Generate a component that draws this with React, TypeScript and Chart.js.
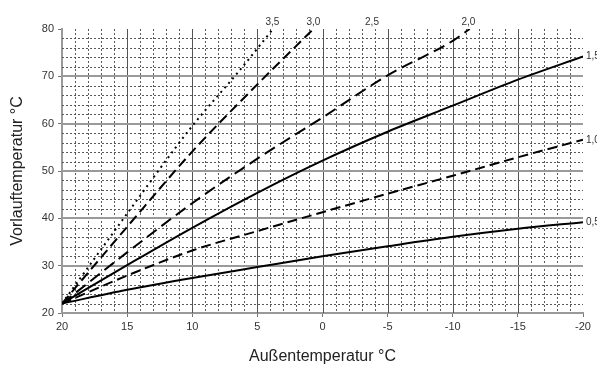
import React, { useEffect, useRef } from "react";
import { Chart, registerables } from "chart.js";

Chart.register(...registerables);

// Outdoor temperature (x) and flow temperature (y) readings
const outdoorTemps = [20, 15, 10, 5, 0, -5, -10, -15, -20];
const curve05 = [22, 24.9, 27.4, 29.7, 32.0, 34.1, 36.1, 37.8, 39.2];
const curve10 = [22, 27.9, 33.2, 37.3, 41.3, 45.2, 49.0, 52.9, 56.6];
const curve15 = [22, 30.1, 38.0, 45.4, 52.2, 58.3, 63.8, 69.3, 74.2];
const curve20X = [20, 15, 10, 5, 0, -5, -10, -11.3];
const curve20 = [22, 32.8, 43.2, 52.6, 61.3, 70.2, 77.5, 80];
const curve30X = [20, 15, 10, 5, 0.7];
const curve30 = [22, 38.2, 54.1, 68.3, 80];
const curve35X = [20, 15, 10, 6.5, 3.8];
const curve35 = [22, 41, 59.5, 70.8, 80];

const topLabels = ["3,5", "3,0", "2,5", "2,0"];
const topLabelX = [3.85, 0.7, -3.8, -11.2];
const sideLabels = ["1,5", "1,0", "0,5"];
const sideLabelY = [curve15[8], curve10[8], curve05[8]];

const xMin = -20;
const xMax = 20;
const yMin = 20;
const yMax = 80;

const FONT = "'Liberation Sans', Arial, sans-serif";

function pts(xs: number[], ys: number[]) {
  return xs.map((x, i) => ({ x, y: ys[i] }));
}

const gridPlugin = {
  id: "customGrid",
  beforeDatasetsDraw(chart: any) {
    const { ctx, chartArea, scales } = chart;
    const xs = scales.x;
    const ys = scales.y;
    const { left, right, top, bottom } = chartArea;
    ctx.save();
    // minor dotted
    ctx.strokeStyle = "#5a5a5a";
    ctx.lineWidth = 1;
    ctx.setLineDash([2, 2]);
    for (let v = xMax - 1; v > xMin; v -= 1) {
      if (v % 5 === 0) continue;
      const px = Math.round(xs.getPixelForValue(v)) + 0.5;
      ctx.beginPath();
      ctx.moveTo(px, top);
      ctx.lineTo(px, bottom);
      ctx.stroke();
    }
    for (let v = yMin + 2; v < yMax; v += 2) {
      if (v % 10 === 0) continue;
      const py = Math.round(ys.getPixelForValue(v)) + 0.5;
      ctx.beginPath();
      ctx.moveTo(left, py);
      ctx.lineTo(right, py);
      ctx.stroke();
    }
    ctx.setLineDash([]);
    // major vertical
    ctx.strokeStyle = "#555";
    ctx.lineWidth = 1;
    for (let v = xMax - 5; v > xMin; v -= 5) {
      const px = Math.round(xs.getPixelForValue(v)) + 0.5;
      ctx.beginPath();
      ctx.moveTo(px, top);
      ctx.lineTo(px, bottom);
      ctx.stroke();
    }
    // major horizontal
    ctx.strokeStyle = "#9a9a9a";
    ctx.lineWidth = 2;
    for (let v = yMin + 10; v < yMax; v += 10) {
      const py = Math.round(ys.getPixelForValue(v));
      ctx.beginPath();
      ctx.moveTo(left, py);
      ctx.lineTo(right, py);
      ctx.stroke();
    }
    ctx.restore();
  },
  afterDraw(chart: any) {
    const { ctx, chartArea, scales } = chart;
    ctx.save();
    ctx.fillStyle = "#333";
    ctx.font = `10px ${FONT}`;
    ctx.textBaseline = "middle";
    ctx.textAlign = "center";
    topLabels.forEach((t, i) => {
      ctx.fillText(t, scales.x.getPixelForValue(topLabelX[i]), chartArea.top - 7);
    });
    ctx.textAlign = "left";
    sideLabels.forEach((t, i) => {
      ctx.fillText(t, chartArea.right + 3, scales.y.getPixelForValue(sideLabelY[i]));
    });
    ctx.restore();
  },
};

export default function App() {
  const ref = useRef<HTMLCanvasElement | null>(null);
  useEffect(() => {
    if (!ref.current) return;
    const line = (data: any, dash: number[]) => ({
      data,
      borderColor: "#000",
      borderWidth: 2,
      borderDash: dash,
      pointRadius: 0,
      fill: false,
      cubicInterpolationMode: "monotone",
    });
    const chart = new Chart(ref.current, {
      type: "line",
      data: {
        datasets: [
          line(pts(outdoorTemps, curve05), []),
          line(pts(outdoorTemps, curve10), [10, 5]),
          line(pts(outdoorTemps, curve15), []),
          line(pts(curve20X, curve20), [12, 6]),
          line(pts(curve30X, curve30), [10, 5]),
          line(pts(curve35X, curve35), [2, 4]),
        ] as any,
      },
      options: {
        responsive: false,
        animation: false,
        events: [],
        layout: { padding: { left: 0, right: 14, top: 29, bottom: 0 } },
        plugins: { legend: { display: false }, tooltip: { enabled: false } },
        scales: {
          x: {
            type: "linear",
            min: xMin,
            max: xMax,
            reverse: true,
            afterFit: (s: any) => {
              s.height = 54;
            },
            ticks: {
              stepSize: 5,
              color: "#333",
              font: { family: FONT, size: 11 },
              padding: 3,
              maxRotation: 0,
            },
            grid: { drawOnChartArea: false, drawTicks: true, tickLength: 4, tickColor: "#777", color: "#777" },
            border: { color: "#999", width: 2 },
            title: {
              display: true,
              text: "Außentemperatur °C",
              color: "#222",
              font: { family: FONT, size: 16 },
              padding: { top: 0, bottom: 1 },
            },
          },
          y: {
            type: "linear",
            min: yMin,
            max: yMax,
            afterFit: (s: any) => {
              s.width = 62;
            },
            ticks: {
              stepSize: 10,
              color: "#333",
              font: { family: FONT, size: 11 },
              padding: 4,
            },
            grid: { drawOnChartArea: false, drawTicks: true, tickLength: 4, tickColor: "#777", color: "#777" },
            border: { color: "#999", width: 2 },
            title: {
              display: true,
              text: "Vorlauftemperatur °C",
              color: "#222",
              font: { family: FONT, size: 16 },
              padding: { top: 8, bottom: 0 },
            },
          },
        },
      },
      plugins: [gridPlugin],
    } as any);
    return () => chart.destroy();
  }, []);
  return (
    <canvas
      ref={ref}
      width={597}
      height={367}
      style={{ position: "absolute", left: 0, top: 0, width: 597, height: 367 }}
    />
  );
}
